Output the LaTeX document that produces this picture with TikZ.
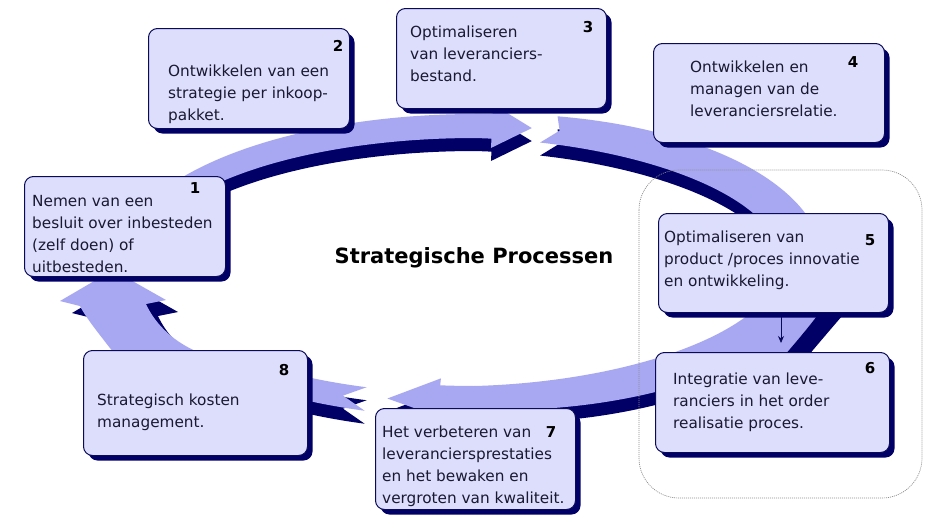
\documentclass[tikz,border=0pt]{standalone}
\usepackage{fontspec}
\setmainfont{DejaVu Sans}
\usetikzlibrary{shadows,arrows.meta}
\definecolor{bandlight}{RGB}{168,168,242}
\definecolor{banddark}{RGB}{0,0,102}
\definecolor{boxfill}{RGB}{221,221,252}
\definecolor{boxline}{RGB}{10,10,90}
\definecolor{txtc}{RGB}{25,25,50}
\pgfmathdeclarefunction{ex}{2}{\pgfmathparse{475+(345+#1*(1+0.75*max(cos(#2),0)))*cos(#2)-18*max(cos(#2),0)}}
\pgfmathdeclarefunction{ey}{2}{\pgfmathparse{262-(136+#1*(1+0.75*max(cos(#2),0)))*sin(#2)}}
\tikzset{
  box/.style={draw=boxline, line width=1pt, fill=boxfill, rounded corners=9pt,
    anchor=north west, inner sep=0pt,
    drop shadow={shadow xshift=5pt, shadow yshift=-5pt, fill=banddark, opacity=1}},
  txt/.style={anchor=north west, inner sep=0pt, align=left, text=txtc,
    font=\fontsize{15.3}{22}\selectfont},
  num/.style={inner sep=0pt, text=black, font=\fontsize{15}{18}\selectfont\bfseries},
  bandl/.style={fill=bandlight},
  bandd/.style={fill=banddark},
  group/.style={draw=gray!90, line width=0.7pt, dash pattern=on 1pt off 1pt, rounded corners=40pt},
  smallarrow/.style={draw=boxline, line width=0.8pt, -{Stealth[length=7pt,width=6pt]}}
}
\newcommand\segA{plot[domain=178:87,samples=60] ({ex(12,\x)},{ey(12,\x)})
  -- ({ex(21,87)},{ey(21,87)})
  -- ({ex(0,80)},{ey(0,80)})
  -- ({ex(-21,87)},{ey(-21,87)})
  -- plot[domain=87:178,samples=60] ({ex(-12,\x)},{ey(-12,\x)}) -- cycle}
\newcommand\segB{({ex(12,76)},{ey(12,76)})
  -- plot[domain=76:-96,samples=120] ({ex(12,\x)},{ey(12,\x)})
  -- ({ex(19,-96)},{ey(19,-96)})
  -- ({ex(5,-104.5)},{ey(5,-104.5)})
  -- ({ex(-19,-96)},{ey(-19,-96)})
  -- plot[domain=-96:78,samples=120] ({ex(-12,\x)},{ey(-12,\x)})
  -- ({ex(0,75)},{ey(0,75)}) -- cycle}
\newcommand\segC{({ex(-12,-109)},{ey(-12,-109)})
  -- ({ex(0,-112.5)},{ey(0,-112.5)})
  -- ({ex(12,-108)},{ey(12,-108)})
  -- plot[domain=-108:-130,samples=30] ({ex(12,\x)},{ey(12,\x)})
  -- plot[domain=-130:-109,samples=30] ({ex(-12,\x)},{ey(-12,\x)}) -- cycle}
\newcommand\segD{(113,352) .. controls (100,335) and (86,318) .. (80,306) -- (60,301)
  -- (113,270) -- (166,300) -- (146,304) .. controls (156,326) and (176,343) .. (198,352) -- cycle}
\begin{document}
\begin{tikzpicture}[x=1pt,y=-1pt]
\useasboundingbox (0,0) rectangle (932,517);
\fill[white] (0,0) rectangle (932,517);
% ring shadows
\fill[bandd, shift={(0,13)}] \segA;
\fill[bandd, shift={(0,13)}] \segB;
\fill[bandd, shift={(0,21)}] \segC;
\fill[bandd, shift={(12,12)}] \segD;
% ring
\fill[bandl] \segA;
\fill[bandl] \segB;
\fill[bandl, shift={(0,8)}] \segC;
\fill[bandl] \segD;
% widening of the ring between boxes 5 and 6
\fill[bandl] (752,312) -- (820,312) .. controls (808,328) and (796,342) .. (784,356)
  -- (700,356) .. controls (725,342) and (742,330) .. (752,312) -- cycle;
\fill[bandd] (820,312) -- (842,316) .. controls (830,330) and (818,344) .. (808,356)
  -- (784,356) .. controls (796,342) and (808,328) .. (820,312) -- cycle;
% group frame
\draw[group] (639,170) rectangle (922,498);
% boxes
\node[box, minimum width=201pt, minimum height=100pt] (b1) at (24,176) {};
\node[box, minimum width=201pt, minimum height=100pt] (b2) at (148,28) {};
\node[box, minimum width=210pt, minimum height=100pt] (b3) at (396,8) {};
\node[box, minimum width=231pt, minimum height=99pt] (b4) at (653,43) {};
\node[box, minimum width=230pt, minimum height=99pt] (b5) at (658,213) {};
\node[box, minimum width=234pt, minimum height=100pt] (b6) at (655,352) {};
\node[box, minimum width=200pt, minimum height=101pt] (b7) at (375,408) {};
\node[box, minimum width=224pt, minimum height=105pt] (b8) at (83,350) {};
% arrow 5 -> 6
\coordinate (a5) at (781,317);
\coordinate (a6) at (781,343);
\draw[smallarrow] (a5) -- (a6);
% texts
\node[txt] (t1) at (32,195) {Nemen van een\\besluit over inbesteden\\(zelf doen) of\\uitbesteden.};
\node[txt] (t2) at (168,65) {Ontwikkelen van een\\strategie per inkoop-\\pakket.};
\node[txt] (t3) at (410,26) {Optimaliseren\\van leveranciers-\\bestand.};
\node[txt] (t4) at (690,61) {Ontwikkelen en\\managen van de\\leveranciersrelatie.};
\node[txt] (t5) at (664,231) {Optimaliseren van\\product /proces innovatie\\en ontwikkeling.};
\node[txt] (t6) at (673,373) {Integratie van leve-\\ranciers in het order\\realisatie proces.};
\node[txt] (t7) at (382,426) {Het verbeteren van\\leveranciersprestaties\\en het bewaken en\\vergroten van kwaliteit.};
\node[txt] (t8) at (97,394) {Strategisch kosten\\management.};
% numbers
\node[num] (n1) at (195,188) {1};
\node[num] (n2) at (338,46) {2};
\node[num] (n3) at (588,27) {3};
\node[num] (n4) at (853,62) {4};
\node[num] (n5) at (870,240) {5};
\node[num] (n6) at (870,368) {6};
\node[num] (n7) at (551,432) {7};
\node[num] (n8) at (284,370) {8};
% title
\node[text=black, font=\fontsize{21}{24}\selectfont\bfseries] (title) at (474,258) {Strategische Processen};
\end{tikzpicture}
\end{document}
